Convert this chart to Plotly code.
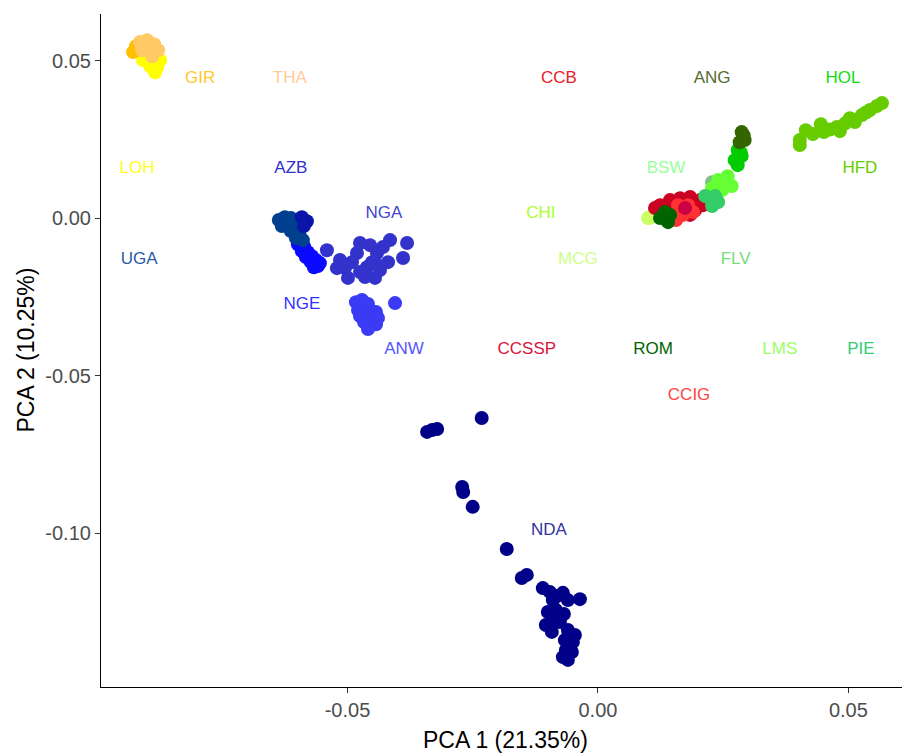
import plotly.graph_objects as go

# ---------------- data ----------------
groups = ["HFD", "NDA", "NGA", "ANW", "NGE", "UGA", "AZB", "LOH", "GIR", "THA",
          "CHI", "MCG", "CCB", "CCIG", "CCSSP", "BSW", "LMS", "FLV", "PIE", "ROM",
          "HOL", "ANG"]

point_colors = {
    "HFD": "#66CC00", "NDA": "#000088", "NGA": "#3333CC", "ANW": "#3B3BF5",
    "NGE": "#0A0AFF", "UGA": "#00408F", "AZB": "#0A14A8", "LOH": "#FFFF00",
    "GIR": "#FFBF00", "THA": "#FFC966", "CHI": "#ADFF2F", "MCG": "#CCFF66",
    "CCB": "#CC0022", "CCIG": "#FF3333", "CCSSP": "#CC0044", "BSW": "#7FBF7F",
    "LMS": "#77DD77", "FLV": "#66FF33", "PIE": "#33CC66", "ROM": "#006400",
    "HOL": "#00CC00", "ANG": "#336600",
}
label_colors = {
    "HFD": "#66CC00", "NDA": "#3333A0", "NGA": "#4444CC", "ANW": "#5555FF",
    "NGE": "#3333FF", "UGA": "#2A5AA8", "AZB": "#3030CC", "LOH": "#FFFF22",
    "GIR": "#FFC82E", "THA": "#FFCC99", "CHI": "#ADFF2F", "MCG": "#CCFF88",
    "CCB": "#E8202A", "CCIG": "#FF4444", "CCSSP": "#DC143C", "BSW": "#99FF99",
    "LMS": "#99FF66", "FLV": "#77DD77", "PIE": "#33CC77", "ROM": "#006400",
    "HOL": "#11DD11", "ANG": "#556B2F",
}

hfd_x = [0.0403, 0.0403, 0.0415, 0.0429, 0.0445, 0.0451, 0.0463, 0.0477, 0.0483,
         0.0493, 0.0503, 0.0513, 0.0527, 0.0535, 0.0543, 0.0557, 0.0567]
hfd_y = [0.0248, 0.0232, 0.0279, 0.0267, 0.0298, 0.0273, 0.0281, 0.0289, 0.0276,
         0.0300, 0.0317, 0.0305, 0.0327, 0.0335, 0.0343, 0.0356, 0.0365]

nda_x = [-0.0232, -0.0341, -0.0331, -0.0321, -0.0271, -0.0269, -0.0250, -0.0182,
         -0.0152, -0.0142,
         -0.0110, -0.0096, -0.0082, -0.0070, -0.0060, -0.0090, -0.0036,
         -0.0100, -0.0084, -0.0068, -0.0092, -0.0076, -0.0104,
         -0.0092,
         -0.0060, -0.0046, -0.0066, -0.0050, -0.0064, -0.0052, -0.0070, -0.0060]
nda_y = [-0.0635, -0.0679, -0.0673, -0.0670, -0.0854, -0.0870, -0.0917, -0.1051,
         -0.1143, -0.1133,
         -0.1175, -0.1187, -0.1200, -0.1190, -0.1213, -0.1213, -0.1210,
         -0.1251, -0.1244, -0.1257, -0.1276, -0.1283, -0.1292,
         -0.1314,
         -0.1308, -0.1324, -0.1340, -0.1346, -0.1371, -0.1378, -0.1394, -0.1403]

nga_x = [-0.0541, -0.0515, -0.0521, -0.0499, -0.0475, -0.0481, -0.0461, -0.0465,
         -0.0441, -0.0435, -0.0429, -0.0381, -0.0389, -0.0455, -0.0415, -0.0445,
         -0.0505, -0.0491, -0.0451, -0.0419, -0.0475, -0.0445]
nga_y = [-0.0102, -0.0133, -0.0159, -0.0190, -0.0079, -0.0111, -0.0156, -0.0187,
         -0.0111, -0.0165, -0.0092, -0.0079, -0.0127, -0.0086, -0.0070, -0.0140,
         -0.0159, -0.0140, -0.0140, -0.0140, -0.0171, -0.0190]

anw_x = [-0.0483, -0.0471, -0.0459, -0.0479, -0.0467, -0.0455, -0.0443, -0.0475,
         -0.0463, -0.0451, -0.0439, -0.0467, -0.0455, -0.0443, -0.0459, -0.0405]
anw_y = [-0.0267, -0.0260, -0.0273, -0.0292, -0.0286, -0.0292, -0.0298, -0.0311,
         -0.0311, -0.0317, -0.0317, -0.0330, -0.0337, -0.0337, -0.0352, -0.0270]

nge_x = [-0.0599, -0.0587, -0.0591, -0.0579, -0.0583, -0.0571, -0.0573, -0.0563,
         -0.0559, -0.0567, -0.0555]
nge_y = [-0.0083, -0.0089, -0.0105, -0.0108, -0.0124, -0.0121, -0.0140, -0.0133,
         -0.0152, -0.0156, -0.0143]

uga_x = [-0.0637, -0.0625, -0.0613, -0.0631, -0.0619, -0.0607, -0.0613, -0.0601,
         -0.0595, -0.0603, -0.0589]
uga_y = [-0.0006, 0.0003, 0.0000, -0.0025, -0.0019, -0.0022, -0.0041, -0.0038,
         -0.0057, -0.0063, -0.0070]

azb_x = [-0.0591, -0.0581, -0.0587]
azb_y = [0.0003, -0.0010, -0.0025]

loh_x = [-0.0908, -0.0890, -0.0874, -0.0894, -0.0880, -0.0884]
loh_y = [0.0502, 0.0502, 0.0502, 0.0483, 0.0479, 0.0463]

gir_x = [-0.0928, -0.0922]
gir_y = [0.0527, 0.0546]

tha_x = [-0.0914, -0.0900, -0.0886, -0.0878, -0.0894, -0.0910, -0.0890]
tha_y = [0.0559, 0.0565, 0.0552, 0.0533, 0.0533, 0.0533, 0.0514]

chi_x = [0.0104, 0.0112]
chi_y = [0.0002, 0.0008]

mcg_x = [0.0100, 0.0110]
mcg_y = [0.0000, 0.0010]

ccb_x = [0.0124, 0.0144, 0.0164, 0.0184, 0.0204, 0.0134, 0.0194, 0.0114,
         0.0154, 0.0210, 0.0184]
ccb_y = [0.0041, 0.0057, 0.0063, 0.0067, 0.0057, 0.0025, 0.0025, 0.0032,
         0.0041, 0.0041, 0.0010]

ccig_x = [0.0160, 0.0180, 0.0170, 0.0190, 0.0156, 0.0166]
ccig_y = [0.0041, 0.0041, 0.0010, 0.0019, -0.0006, 0.0025]

ccssp_x = [0.0174]
ccssp_y = [0.0032]

bsw_x = [0.0228]
bsw_y = [0.0114]

lms_x = [0.0240]
lms_y = [0.0110]

flv_x = [0.0240, 0.0259, 0.0267, 0.0248, 0.0228, 0.0255]
flv_y = [0.0121, 0.0133, 0.0102, 0.0089, 0.0095, 0.0115]

pie_x = [0.0224, 0.0240, 0.0228, 0.0214, 0.0234]
pie_y = [0.0063, 0.0051, 0.0038, 0.0070, 0.0070]

rom_x = [0.0134, 0.0140, 0.0124, 0.0144]
rom_y = [0.0019, -0.0013, 0.0000, 0.0010]

hol_x = [0.0279, 0.0287, 0.0273, 0.0279, 0.0285]
hol_y = [0.0216, 0.0197, 0.0184, 0.0168, 0.0208]

ang_x = [0.0287, 0.0293, 0.0283, 0.0291]
ang_y = [0.0273, 0.0248, 0.0241, 0.0262]

group_x = {"HFD": hfd_x, "NDA": nda_x, "NGA": nga_x, "ANW": anw_x, "NGE": nge_x,
           "UGA": uga_x, "AZB": azb_x, "LOH": loh_x, "GIR": gir_x, "THA": tha_x,
           "CHI": chi_x, "MCG": mcg_x, "CCB": ccb_x, "CCIG": ccig_x,
           "CCSSP": ccssp_x, "BSW": bsw_x, "LMS": lms_x, "FLV": flv_x,
           "PIE": pie_x, "ROM": rom_x, "HOL": hol_x, "ANG": ang_x}
group_y = {"HFD": hfd_y, "NDA": nda_y, "NGA": nga_y, "ANW": anw_y, "NGE": nge_y,
           "UGA": uga_y, "AZB": azb_y, "LOH": loh_y, "GIR": gir_y, "THA": tha_y,
           "CHI": chi_y, "MCG": mcg_y, "CCB": ccb_y, "CCIG": ccig_y,
           "CCSSP": ccssp_y, "BSW": bsw_y, "LMS": lms_y, "FLV": flv_y,
           "PIE": pie_y, "ROM": rom_y, "HOL": hol_y, "ANG": ang_y}

# label positions (data coords)
label_names = ["GIR", "THA", "CCB", "ANG", "HOL", "LOH", "AZB", "BSW", "HFD",
               "NGA", "CHI", "UGA", "MCG", "FLV", "NGE", "ANW", "CCSSP", "ROM",
               "LMS", "PIE", "CCIG", "NDA"]
label_x = [-0.0794, -0.0615, -0.0078, 0.0228, 0.0489, -0.0920, -0.0613, 0.0136,
           0.0523, -0.0427, -0.0114, -0.0916, -0.0040, 0.0275, -0.0591, -0.0387,
           -0.0142, 0.0110, 0.0363, 0.0525, 0.0182, -0.0098]
label_y = [0.0444, 0.0444, 0.0444, 0.0444, 0.0444, 0.0156, 0.0156, 0.0156,
           0.0156, 0.0013, 0.0013, -0.0133, -0.0133, -0.0133, -0.0276, -0.0419,
           -0.0419, -0.0419, -0.0419, -0.0419, -0.0565, -0.0994]

x_tickvals = [-0.05, 0.0, 0.05]
x_ticktext = ["-0.05", "0.00", "0.05"]
y_tickvals = [-0.10, -0.05, 0.0, 0.05]
y_ticktext = ["-0.10", "-0.05", "0.00", "0.05"]

x_title = "PCA 1 (21.35%)"
y_title = "PCA 2 (10.25%)"

# ---------------- figure ----------------
fig = go.Figure()
for g in groups:
    fig.add_trace(go.Scatter(
        x=group_x[g], y=group_y[g], mode="markers", name=g,
        marker=dict(size=14, color=point_colors[g], line=dict(width=0)),
        showlegend=False, hoverinfo="name"))

fig.add_trace(go.Scatter(
    x=label_x, y=label_y, mode="text", text=label_names,
    textfont=dict(family="Liberation Sans, Arial", size=17,
                  color=[label_colors[n] for n in label_names]),
    showlegend=False, hoverinfo="skip"))

# the page body adds an ~8px offset, so the figure is sized to fit the window
fig.update_layout(
    width=902, height=745,
    margin=dict(l=93, r=0, t=6, b=66),
    paper_bgcolor="white", plot_bgcolor="white",
    font=dict(family="Liberation Sans, Arial", color="#4D4D4D"),
    annotations=[
        dict(text=x_title, xref="paper", yref="paper", x=0.5, y=0,
             xanchor="center", yanchor="middle", yshift=-53, showarrow=False,
             font=dict(size=23, color="black")),
        dict(text=y_title, xref="paper", yref="paper", x=0, y=0.5,
             xanchor="center", yanchor="middle", xshift=-76, textangle=-90,
             showarrow=False, font=dict(size=23, color="black")),
    ],
)
fig.update_xaxes(
    range=[-0.0992, 0.0623], tickvals=x_tickvals, ticktext=x_ticktext,
    automargin=False,
    showgrid=False, zeroline=False, showline=True, linecolor="black", linewidth=1.2,
    ticks="outside", ticklen=5, tickcolor="#333333", tickwidth=1.1,
    tickfont=dict(size=20, color="#4D4D4D"),
)
fig.update_yaxes(
    range=[-0.1489, 0.0648], tickvals=y_tickvals, ticktext=y_ticktext,
    automargin=False,
    showgrid=False, zeroline=False, showline=True, linecolor="black", linewidth=1.2,
    ticks="outside", ticklen=5, tickcolor="#333333", tickwidth=1.1,
    tickfont=dict(size=20, color="#4D4D4D"),
)

fig.write_html("out.html")
